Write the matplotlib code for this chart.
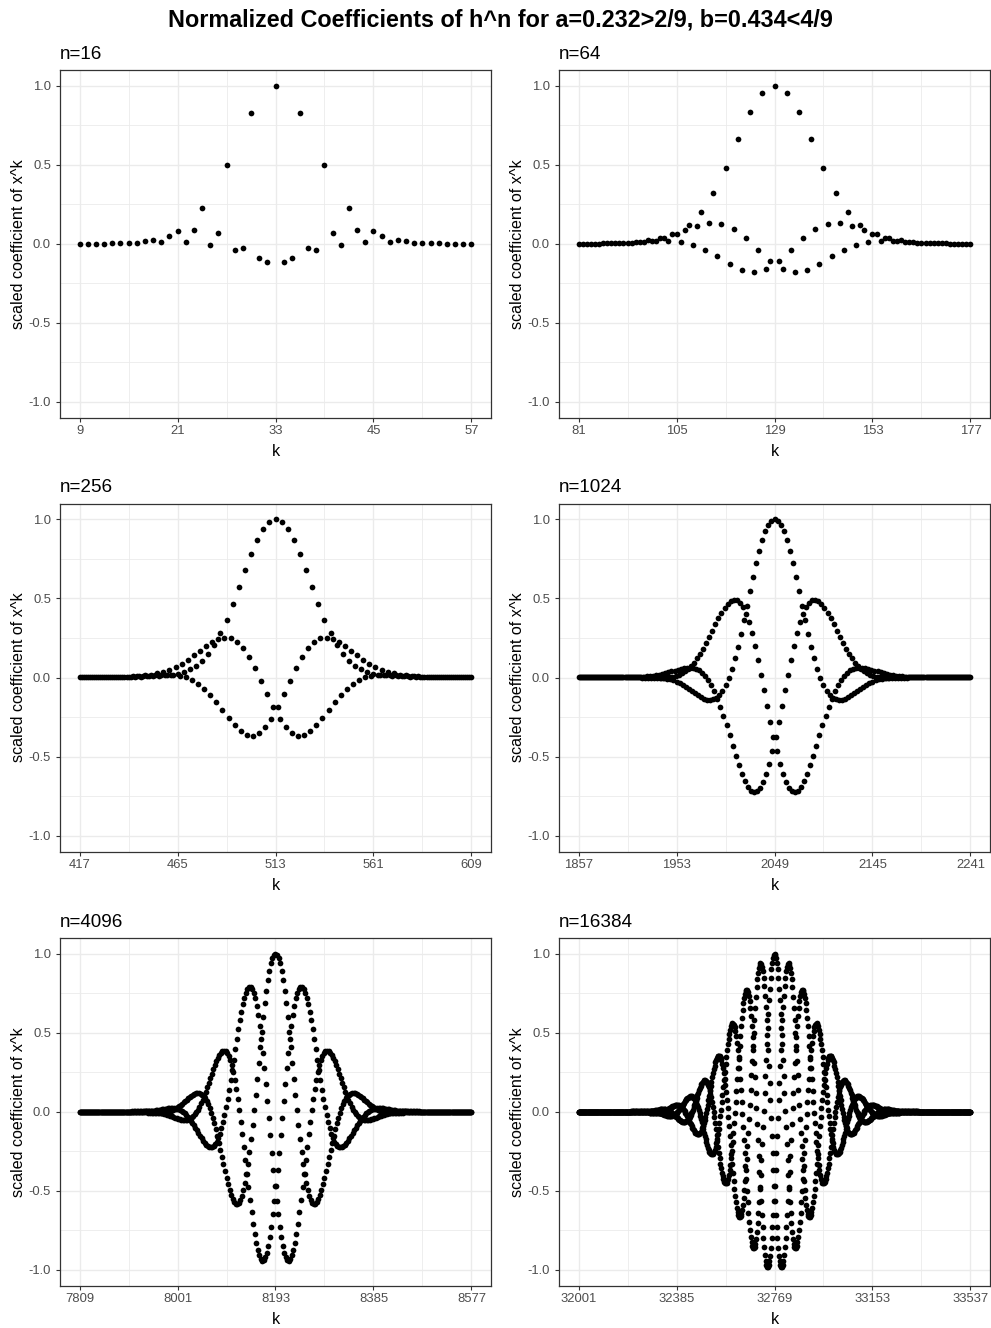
import numpy as np
import matplotlib
matplotlib.use('Agg')
import matplotlib.pyplot as plt

# h(x) = a + b x + c x^2 + b x^3 + a x^4, coefficients summing to 1
# the title shows a and b rounded to 3 decimals
a = 0.2324
b = 0.4345
c = 1 - 2 * a - 2 * b
h_coefs = [a, b, c, b, a]
n_values = [16, 64, 256, 1024, 4096, 16384]
panel_titles = ['n=16', 'n=64', 'n=256', 'n=1024', 'n=4096', 'n=16384']
main_title = 'Normalized Coefficients of h^n for a=0.232>2/9, b=0.434<4/9'
y_ticks = [-1.0, -0.5, 0.0, 0.5, 1.0]
y_tick_labels = ['-1.0', '-0.5', '0.0', '0.5', '1.0']

plt.rcParams['font.family'] = ['Liberation Sans', 'DejaVu Sans']


def poly_power(h, n):
    # coefficients of h(x)^n (index j -> power x^j), via fft
    N = (len(h) - 1) * n + 1
    H = np.fft.fft(np.asarray(h, dtype=float), N)
    return np.real(np.fft.ifft(H ** n))


def window(n):
    # k is 1-based (k = power + 1), centre 2n+1, half width 6*sqrt(n)
    half = int(round(6 * np.sqrt(n)))
    centre = 2 * n + 1
    return centre - half, centre, centre + half


W, H = 991, 1328
fig = plt.figure(figsize=(W / 100, H / 100), dpi=100)
fig.patch.set_facecolor('white')

lefts = [60 / W, 559 / W]
bottoms = [1 - 417.7 / H, 1 - 851.5 / H, 1 - 1285.7 / H]
pw, ph = 431 / W, 348 / H

grid_col = '#EBEBEB'
dark = '#333333'

for i, n in enumerate(n_values):
    row, col = divmod(i, 2)
    ax = fig.add_axes([lefts[col], bottoms[row], pw, ph])

    p = poly_power(h_coefs, n)
    p = p / np.max(np.abs(p))
    lo, mid, hi = window(n)
    k = np.arange(lo, hi + 1)
    vals = p[k - 1]

    ax.scatter(k, vals, s=17, color='black', linewidths=0, zorder=3)

    span = hi - lo
    xt = [lo, lo + span // 4, mid, mid + span // 4, hi]
    xminor = [lo + span / 8 + j * span / 4 for j in range(4)]
    ax.set_xlim(lo - 0.05 * span, hi + 0.05 * span)
    ax.set_ylim(-1.1, 1.1)
    ax.set_xticks(xt)
    ax.set_xticklabels([str(v) for v in xt])
    ax.set_xticks(xminor, minor=True)
    ax.set_yticks(y_ticks)
    ax.set_yticklabels(y_tick_labels)
    ax.set_yticks([-0.75, -0.25, 0.25, 0.75], minor=True)

    ax.grid(True, which='major', color=grid_col, linewidth=1.0, zorder=0)
    ax.grid(True, which='minor', color=grid_col, linewidth=0.6, zorder=0)
    ax.set_axisbelow(True)

    ax.tick_params(which='major', length=3, width=0.8, color=dark,
                   labelsize=9.4, labelcolor='#4D4D4D', pad=2.5)
    ax.tick_params(axis='y', which='major', pad=3.5)
    ax.tick_params(which='minor', length=0)
    for s in ax.spines.values():
        s.set_color(dark)
        s.set_linewidth(0.9)

    ax.set_xlabel('k', fontsize=11.6, labelpad=5)
    ax.set_ylabel('scaled coefficient of x^k', fontsize=11.6, labelpad=2)
    ax.set_title(panel_titles[i], loc='left', fontsize=13.6, pad=8)

fig.text(0.505, 1 - 20.5 / H, main_title, ha='center', va='center',
         fontsize=16.8, fontweight='bold')

fig.savefig('out.png', dpi=100)
